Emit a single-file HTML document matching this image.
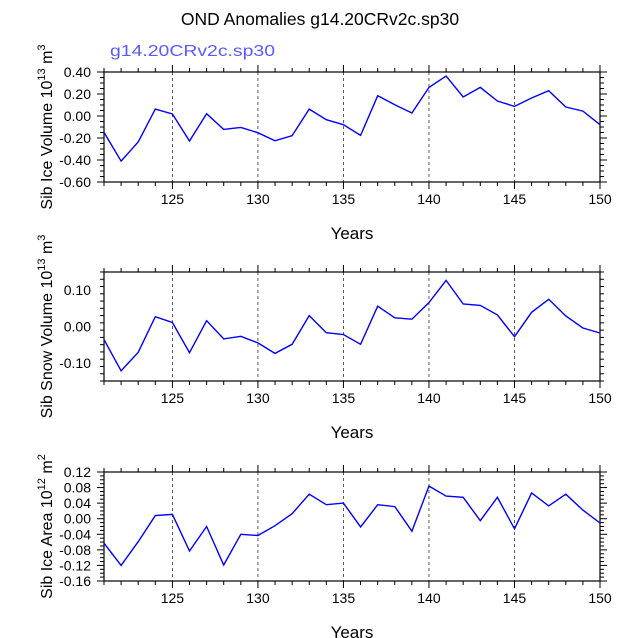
<!DOCTYPE html>
<html><head><meta charset="utf-8"><style>
html,body{margin:0;padding:0;background:#fff;}
svg{display:block;font-family:"Liberation Sans",Arial,sans-serif;}
</style></head><body>
<svg id="chart" width="638" height="638" viewBox="0 0 638 638">
<text x="320" y="25" text-anchor="middle" font-size="17.5">OND Anomalies g14.20CRv2c.sp30</text>
<text x="110" y="56" font-size="16" fill="#5a5aff" textLength="165" lengthAdjust="spacingAndGlyphs">g14.20CRv2c.sp30</text>
</svg>
<script>
const years=[121,122,123,124,125,126,127,128,129,130,131,132,133,134,135,136,137,138,139,140,141,142,143,144,145,146,147,148,149,150];
const iceVolume=[-0.149,-0.41,-0.236,0.063,0.018,-0.227,0.021,-0.122,-0.104,-0.152,-0.225,-0.179,0.063,-0.034,-0.079,-0.176,0.185,0.103,0.027,0.26,0.364,0.173,0.26,0.136,0.087,0.164,0.23,0.082,0.045,-0.079];
const snowVolume=[-0.036,-0.122,-0.071,0.027,0.011,-0.072,0.016,-0.034,-0.027,-0.045,-0.074,-0.049,0.03,-0.017,-0.022,-0.049,0.056,0.024,0.02,0.066,0.127,0.062,0.058,0.032,-0.028,0.039,0.075,0.029,-0.004,-0.018];
const iceArea=[-0.063,-0.12,-0.059,0.008,0.011,-0.083,-0.02,-0.119,-0.04,-0.043,-0.018,0.013,0.063,0.036,0.04,-0.021,0.036,0.031,-0.032,0.084,0.058,0.055,-0.005,0.055,-0.026,0.066,0.033,0.063,0.022,-0.011];
const xTicks=[125,130,135,140,145,150];
const iceVolTicks=["0.40","0.20","0.00","-0.20","-0.40","-0.60"];
const snowTicks=["0.10","0.00","-0.10"];
const areaTicks=["0.12","0.08","0.04","0.00","-0.04","-0.08","-0.12","-0.16"];

const svg=document.getElementById('chart');
const NS='http://www.w3.org/2000/svg';
function mk(tag,attrs,parent){const e=document.createElementNS(NS,tag);for(const k in attrs)e.setAttribute(k,attrs[k]);(parent||svg).appendChild(e);return e;}
const X0=104,X1=600,XMIN=121,XMAX=150;
const xs=v=>X0+(v-XMIN)/(XMAX-XMIN)*(X1-X0);

function panel(cfg){
  const g=mk('g',{});
  
  
  const ys=v=>cfg.top+(cfg.ymax-v)/(cfg.ymax-cfg.ymin)*(cfg.bot-cfg.top);
  xTicks.forEach(t=>{if(t<XMAX){const l=mk('line',{x1:xs(t),x2:xs(t),y1:cfg.top,y2:cfg.bot,stroke:'#333','stroke-width':0.8,'stroke-dasharray':'3,3'},g);
    }});
  for(let y=XMIN;y<=XMAX;y++){const maj=xTicks.includes(y);const L=maj?7:4;
    mk('line',{x1:xs(y),x2:xs(y),y1:cfg.top,y2:cfg.top-L,stroke:'#000','stroke-width':1},g);
    mk('line',{x1:xs(y),x2:xs(y),y1:cfg.bot,y2:cfg.bot+L,stroke:'#000','stroke-width':1},g);}
  for(let v=cfg.ymin;v<=cfg.ymax+1e-9;v+=cfg.minor){const r=Math.round(v/cfg.major*1000)/1000;const maj=Math.abs(r-Math.round(r))<1e-6;const L=maj?7:4;const y=ys(v);
    mk('line',{x1:X0,x2:X0-L,y1:y,y2:y,stroke:'#000','stroke-width':1},g);
    mk('line',{x1:X1,x2:X1+L,y1:y,y2:y,stroke:'#000','stroke-width':1},g);}
  cfg.labels.forEach(s=>{const v=parseFloat(s);const t=mk('text',{x:X0-13,y:ys(v)+5,'text-anchor':'end','font-size':14},g);t.textContent=s;
    });
  xTicks.forEach(v=>{const t=mk('text',{x:xs(v),y:cfg.bot+22,'text-anchor':'middle','font-size':14},g);t.textContent=v;
    });
  const fr=mk('rect',{x:X0,y:cfg.top,width:X1-X0,height:cfg.bot-cfg.top,fill:'none',stroke:'#000','stroke-width':1.2},g);
  
  const pts=years.map((yr,i)=>xs(yr).toFixed(1)+','+ys(cfg.data[i]).toFixed(1)).join(' ');
  const pl=mk('polyline',{points:pts,fill:'none',stroke:'#0000ff','stroke-width':1.4},g);
  
  const xt=mk('text',{x:352,y:cfg.bot+57,'text-anchor':'middle','font-size':17},g);xt.textContent='Years';
  
  const cy=(cfg.top+cfg.bot)/2;
  const yt=mk('text',{x:0,y:0,'text-anchor':'middle','font-size':16,transform:`translate(${cfg.tx},${cy}) rotate(-90)`},g);
  yt.innerHTML=cfg.title;
  
}
panel({name:'ice-volume',top:72,bot:182,ymin:-0.6,ymax:0.4,major:0.2,minor:0.05,labels:iceVolTicks,data:iceVolume,tx:52,
  title:'Sib Ice Volume 10<tspan font-size="11" dy="-7">13</tspan><tspan dy="7"> m</tspan><tspan font-size="11" dy="-7">3</tspan>'});
panel({name:'snow-volume',top:272,bot:381,ymin:-0.15,ymax:0.15,major:0.1,minor:0.02,labels:snowTicks,data:snowVolume,tx:52,
  title:'Sib Snow Volume 10<tspan font-size="11" dy="-7">13</tspan><tspan dy="7"> m</tspan><tspan font-size="11" dy="-7">3</tspan>'});
panel({name:'ice-area',top:472,bot:581,ymin:-0.16,ymax:0.12,major:0.04,minor:0.01,labels:areaTicks,data:iceArea,tx:52,
  title:'Sib Ice Area 10<tspan font-size="11" dy="-7">12</tspan><tspan dy="7"> m</tspan><tspan font-size="11" dy="-7">2</tspan>'});
</script>
</body></html>
